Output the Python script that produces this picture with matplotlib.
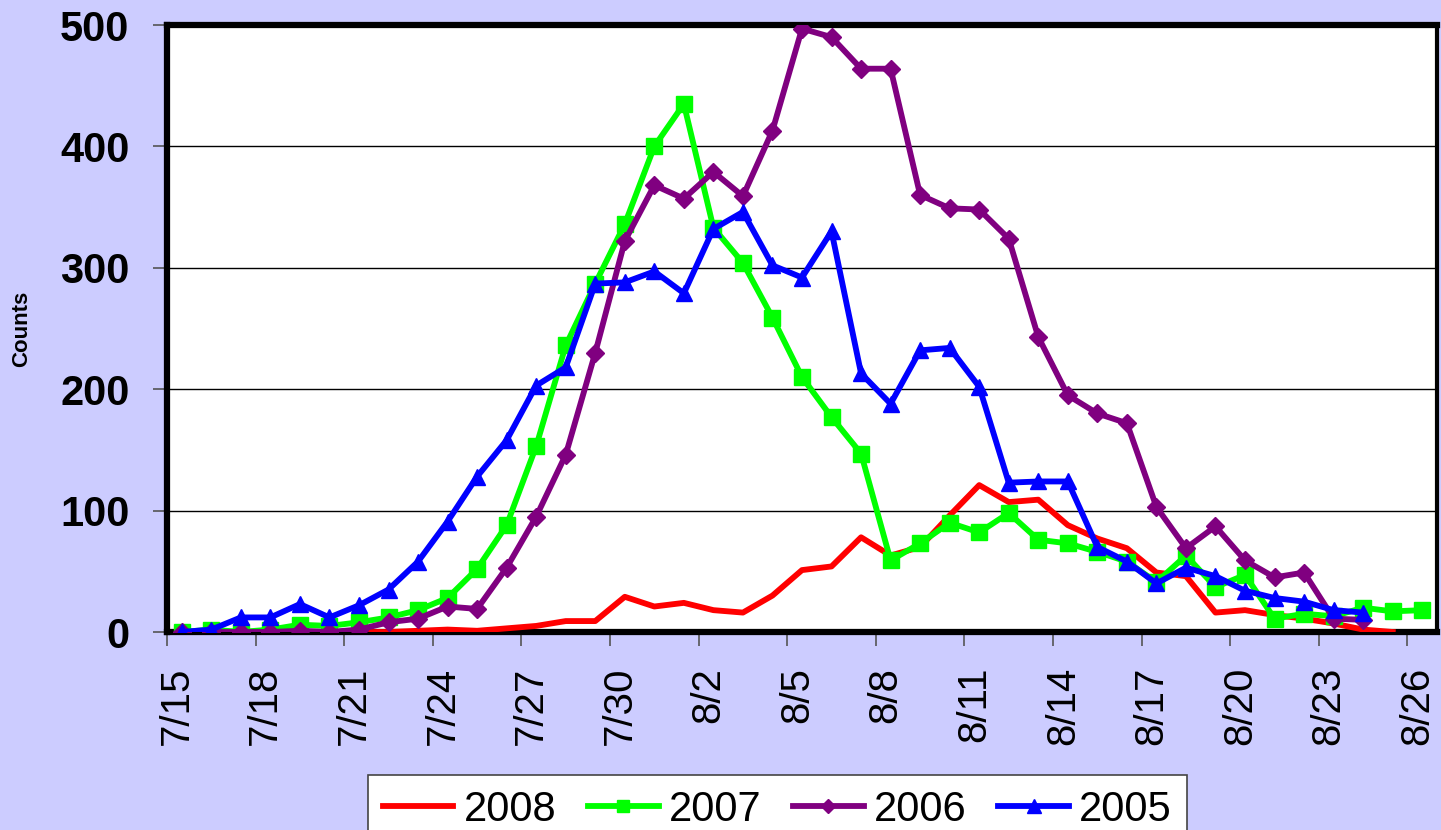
import matplotlib.pyplot as plt
from matplotlib.ticker import FixedLocator

plt.rcParams['font.family'] = ['Liberation Sans', 'DejaVu Sans']

# one label per day, 7/15 .. 8/26
dates = ['7/15', '7/16', '7/17', '7/18', '7/19', '7/20', '7/21', '7/22', '7/23', '7/24',
         '7/25', '7/26', '7/27', '7/28', '7/29', '7/30', '7/31', '8/1', '8/2', '8/3',
         '8/4', '8/5', '8/6', '8/7', '8/8', '8/9', '8/10', '8/11', '8/12', '8/13',
         '8/14', '8/15', '8/16', '8/17', '8/18', '8/19', '8/20', '8/21', '8/22', '8/23',
         '8/24', '8/25', '8/26']

counts_2008 = [0, 0, 0, 0, 0, 0, 0, 0, 1, 2, 1, 3, 5, 9, 9, 29, 21, 24, 18, 16,
               30, 51, 54, 78, 63, 70, 96, 121, 107, 109, 88, 77, 69, 49, 46, 16,
               18, 14, 11, 7, 2, 0]
counts_2007 = [0, 2, 0, 2, 6, 5, 8, 12, 18, 28, 52, 88, 153, 236, 287, 336, 400,
               435, 333, 304, 259, 210, 177, 147, 59, 73, 90, 82, 98, 76, 73, 66,
               58, 41, 63, 37, 47, 11, 15, 13, 20, 17, 18]
counts_2006 = [0, 0, 0, 0, 1, 0, 2, 8, 11, 21, 19, 53, 95, 146, 230, 322, 368, 357,
               379, 359, 413, 497, 490, 464, 464, 360, 349, 348, 324, 243, 195, 180,
               172, 103, 69, 87, 59, 45, 49, 11, 10]
counts_2005 = [0, 2, 12, 12, 23, 12, 22, 35, 58, 91, 128, 158, 203, 218, 287, 288,
               297, 279, 332, 346, 302, 292, 330, 213, 188, 232, 234, 202, 123, 124,
               124, 70, 58, 40, 53, 46, 34, 28, 25, 18, 16]

fig = plt.figure(figsize=(14.41, 8.30), dpi=100, facecolor='#CCCCFF')
ax = fig.add_axes([167 / 1441, 1 - 632 / 830, (1437 - 167) / 1441, (632 - 25) / 830])
ax.set_facecolor('white')

ax.plot(range(len(counts_2008)), counts_2008, color='#FF0000', lw=4.2, label='2008', zorder=3)
ax.plot(range(len(counts_2007)), counts_2007, color='#00FF00', lw=4.2, marker='s', ms=11,
        label='2007', zorder=3)
ax.plot(range(len(counts_2006)), counts_2006, color='#800080', lw=4.2, marker='D', ms=9,
        label='2006', zorder=3)
ax.plot(range(len(counts_2005)), counts_2005, color='#0000FF', lw=4.2, marker='^', ms=12,
        label='2005', zorder=3)

ax.set_xlim(-0.5, len(dates) - 0.5)
ax.set_ylim(0, 500)

# tick marks sit between days, labels a bit right of them
ax.xaxis.set_minor_locator(FixedLocator([i - 0.5 for i in range(0, len(dates), 3)]))
ax.set_xticks([i - 0.17 for i in range(0, len(dates), 3)])
ax.set_xticklabels(dates[::3], rotation=90, fontsize=29)
ax.tick_params(axis='x', which='major', length=0, pad=25)
ax.tick_params(axis='x', which='minor', length=10, width=1.2, color='#555555')

ax.set_yticks([0, 100, 200, 300, 400, 500])
ax.set_yticklabels(['0', '100', '200', '300', '400', '500'], fontsize=30, fontweight='bold')
ax.tick_params(axis='y', length=10, width=1.2, color='#555555', pad=17)
ax.yaxis.grid(True, color='black', lw=1)
ax.set_axisbelow(True)

for side in ['left', 'bottom', 'top']:
    ax.spines[side].set_linewidth(4.5)
ax.spines['right'].set_linewidth(3)

fig.text(22 / 1441, 1 - 329 / 830, 'Counts', rotation=90, fontsize=16, fontweight='bold',
         ha='center', va='center')

leg = fig.legend(loc='upper left', bbox_to_anchor=(368 / 1441, 1 - 775 / 830), ncol=4,
                 fontsize=30, frameon=True, fancybox=False, framealpha=1,
                 edgecolor='#444444', markerscale=0.8,
                 handlelength=1.7, handletextpad=0.25, columnspacing=0.75,
                 borderpad=0.35, borderaxespad=0)
leg.get_frame().set_linewidth(1.2)

fig.savefig('out.png', dpi=100, facecolor=fig.get_facecolor())
